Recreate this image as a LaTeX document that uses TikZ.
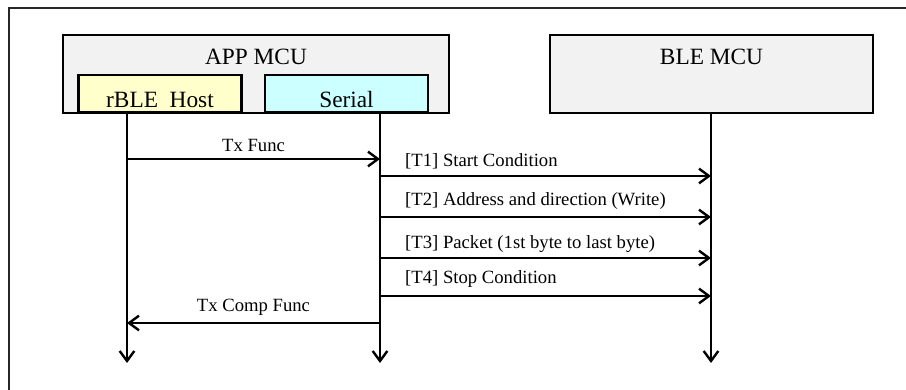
\documentclass[tikz,border=0pt]{standalone}
\usepackage{fontspec}
\setmainfont{Liberation Serif}
\usetikzlibrary{positioning, arrows.meta}

\definecolor{mcugray}{HTML}{F2F2F2}
\definecolor{hostyellow}{HTML}{FFFFCC}
\definecolor{serialcyan}{HTML}{CCFFFF}

\tikzset{
  mcu/.style={draw, line width=1.8pt, fill=mcugray, minimum height=58.5pt, inner sep=0pt},
  sub/.style={draw, line width=1.8pt, minimum height=27.75pt, minimum width=122pt, inner sep=0pt},
  hdr/.style={font=\fontsize{17.5}{21}\selectfont, inner sep=0pt},
  lbl/.style={font=\fontsize{14}{16}\selectfont, inner sep=0pt},
  msg/.style={line width=1.8pt, -{Straight Barb[length=7.5pt,width=11pt]}},
}

\begin{document}
\begin{tikzpicture}[x=0.75pt,y=-0.75pt]
   \useasboundingbox (0,0) rectangle (906,389);
   \draw[line width=1.4pt, black!85] (9,8) rectangle (920,400);

   \node[mcu, minimum width=289.5pt,
         label={[hdr, anchor=base, yshift=-23.25pt]north:APP MCU}] (app) at (256,74) {};
   \node[mcu, minimum width=242.25pt, right=341.6pt of app.center, anchor=center,
         label={[hdr, anchor=base, yshift=-23.25pt]north:BLE MCU}] (ble) {};
   \node[sub, fill=hostyellow, anchor=south,
         label={[hdr, anchor=base, yshift=4.5pt]south:rBLE\ \ Host}] (host) at (160,113) {};
   \node[sub, fill=serialcyan, anchor=south,
         label={[hdr, anchor=base, yshift=4.5pt]south:Serial}] (serial) at (346.5,113) {};

   \coordinate (hostl) at (127,113);
   \coordinate (seriall) at (380,113);
   \coordinate (blel) at (711,113);
   \coordinate (lend) at (0,363);

   \coordinate (m1) at (0,159);
   \coordinate (m2) at (0,176);
   \coordinate (m3) at (0,217);
   \coordinate (m4) at (0,258);
   \coordinate (m5) at (0,296);
   \coordinate (m6) at (0,323);

   \path[msg]
    (hostl) edge (hostl |- lend)
    (seriall) edge (seriall |- lend)
    (blel) edge (blel |- lend)
    (hostl |- m1) edge node[lbl, above=4.9pt] {Tx Func} (seriall |- m1)
    (seriall |- m2) edge node[lbl, pos=0, anchor=base west, xshift=18pt, yshift=7.5pt] {[T1] Start Condition} (blel |- m2)
    (seriall |- m3) edge node[lbl, pos=0, anchor=base west, xshift=18pt, yshift=8.5pt] {[T2] Address and direction (Write)} (blel |- m3)
    (seriall |- m4) edge node[lbl, pos=0, anchor=base west, xshift=18pt, yshift=7.5pt] {[T3] Packet (1st byte to last byte)} (blel |- m4)
    (seriall |- m5) edge node[lbl, pos=0, anchor=base west, xshift=18pt, yshift=9.5pt] {[T4] Stop Condition} (blel |- m5)
    (seriall |- m6) edge node[lbl, above=4.9pt] {Tx Comp Func} (hostl |- m6);
\end{tikzpicture}
\end{document}
